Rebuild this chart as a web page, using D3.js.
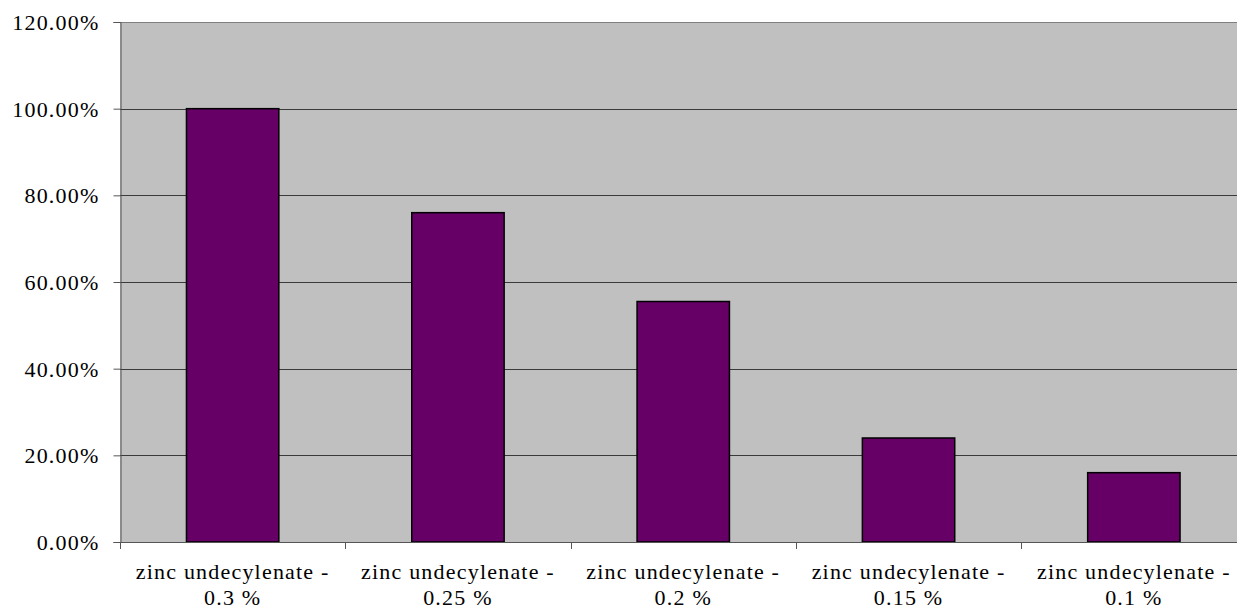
<!DOCTYPE html>
<html>
<head>
<meta charset="utf-8">
<script src="https://cdn.jsdelivr.net/npm/d3@7"></script>
<style>
  html, body { margin: 0; padding: 0; background: #ffffff; overflow: hidden; }
  svg { display: block; }
</style>
</head>
<body>
<svg id="chart" width="1237" height="610"></svg>
<script>
// Concentration labels (two lines each) and measured inhibition share
const categories = ["0.3 %", "0.25 %", "0.2 %", "0.15 %", "0.1 %"];
const labelPrefix = "zinc undecylenate -";
const values = [1.00, 0.76, 0.555, 0.24, 0.16];
const yTicks = [0, 0.2, 0.4, 0.6, 0.8, 1.0, 1.2];

const svg = d3.select("#chart");
const plot = { left: 120, top: 22, right: 1246.5, bottom: 542 };
const fontFamily = "'Liberation Serif', 'Times New Roman', Times, serif";
const fontSize = "22px";
const spacing = "1.2px";

const x = d3.scaleBand()
  .domain(categories)
  .range([plot.left, plot.right])
  .paddingInner(0.59)
  .paddingOuter(0.295);

const y = d3.scaleLinear()
  .domain([0, 1.2])
  .range([plot.bottom, plot.top]);

// plot background
svg.append("rect")
  .attr("x", plot.left).attr("y", plot.top)
  .attr("width", plot.right - plot.left).attr("height", plot.bottom - plot.top)
  .attr("fill", "#c0c0c0");

// horizontal gridlines
svg.append("g")
  .selectAll("line")
  .data(yTicks.filter(d => d > 0))
  .join("line")
  .attr("x1", plot.left).attr("x2", plot.right)
  .attr("y1", d => Math.round(y(d)) + 0.5).attr("y2", d => Math.round(y(d)) + 0.5)
  .attr("stroke", d => d === 1.2 ? "#808080" : "#3a3a3a")
  .attr("stroke-width", 1);

// bars
svg.append("g")
  .selectAll("rect")
  .data(values)
  .join("rect")
  .attr("x", (d, i) => x(categories[i]))
  .attr("y", d => y(d))
  .attr("width", x.bandwidth())
  .attr("height", d => y(0) - y(d))
  .attr("fill", "#660066")
  .attr("stroke", "#000")
  .attr("stroke-width", 1.5);

// y axis
const yAxis = d3.axisLeft(y)
  .tickValues(yTicks)
  .tickFormat(d => (d * 100).toFixed(2) + "%")
  .tickSize(7)
  .tickPadding(14);

const gy = svg.append("g")
  .attr("transform", `translate(${plot.left + 0.5},0)`)
  .call(yAxis)
  .attr("font-family", fontFamily)
  .attr("font-size", fontSize);
gy.select(".domain").attr("stroke", "#555");
gy.selectAll(".tick line").attr("stroke", "#555");
gy.selectAll(".tick text")
  .style("font-family", fontFamily)
  .style("font-size", fontSize)
  .style("letter-spacing", spacing)
  .attr("fill", "#000")
  .attr("dy", "0.34em");

// x axis: ticks at category boundaries
const step = x.step();
const boundaries = d3.range(categories.length + 1).map(i => plot.left + i * step);
svg.append("line")
  .attr("x1", plot.left).attr("x2", plot.right)
  .attr("y1", plot.bottom + 0.5).attr("y2", plot.bottom + 0.5)
  .attr("stroke", "#555");
svg.append("g")
  .selectAll("line")
  .data(boundaries)
  .join("line")
  .attr("x1", d => Math.round(d) + 0.5).attr("x2", d => Math.round(d) + 0.5)
  .attr("y1", plot.bottom).attr("y2", plot.bottom + 7)
  .attr("stroke", "#555");

// category labels
const labels = svg.append("g")
  .selectAll("text")
  .data(categories)
  .join("text")
  .attr("text-anchor", "middle")
  .attr("fill", "#000")
  .style("font-family", fontFamily)
  .style("font-size", fontSize)
  .style("letter-spacing", spacing);
labels.append("tspan")
  .attr("x", d => x(d) + x.bandwidth() / 2)
  .attr("y", 579)
  .text(labelPrefix);
labels.append("tspan")
  .attr("x", d => x(d) + x.bandwidth() / 2)
  .attr("y", 605)
  .text(d => d);
</script>
</body>
</html>
